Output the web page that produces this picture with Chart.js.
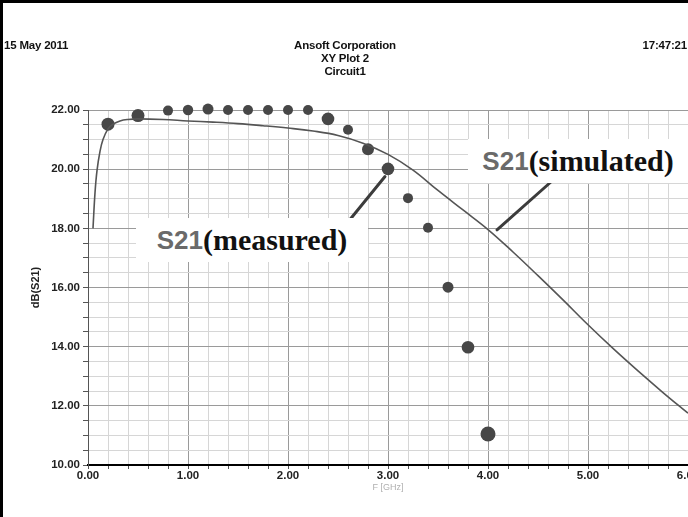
<!DOCTYPE html>
<html><head><meta charset="utf-8">
<script src="https://cdn.jsdelivr.net/npm/chart.js@4/dist/chart.umd.min.js"></script>
<style>
html,body{margin:0;padding:0;background:#fff;overflow:hidden;width:688px;height:517px;}
#wrap{position:relative;width:688px;height:517px;overflow:hidden;background:#fff;}
#frame{position:absolute;left:0;top:0;width:688px;height:517px;border-left:3px solid #000;border-top:3px solid #000;box-sizing:border-box;pointer-events:none;z-index:5}
#holder{position:absolute;left:0;top:0;width:720px;height:517px;}
.hdr{position:absolute;font:bold 11.5px 'Liberation Sans Narrow','Liberation Sans',Arial,sans-serif;color:#111;white-space:nowrap;line-height:13px;letter-spacing:-0.2px}
.note{position:absolute;background:#fff;white-space:nowrap;display:flex;align-items:center;justify-content:center;z-index:3}
.s{font:bold 26px 'Liberation Sans',Arial,sans-serif;color:#6a6a6a}
.p{font:bold 30px 'Liberation Serif','Times New Roman',serif;color:#111}
</style></head>
<body><div id="wrap">
<div id="holder"><canvas id="c" width="720" height="517"></canvas></div>
<div class="hdr" style="left:4px;top:39px">15 May 2011</div>
<div class="hdr" style="left:245px;width:200px;top:39px;text-align:center">Ansoft Corporation</div>
<div class="hdr" style="left:245px;width:200px;top:52px;text-align:center">XY Plot 2</div>
<div class="hdr" style="left:245px;width:200px;top:65px;text-align:center">Circuit1</div>
<div class="hdr" style="right:1px;top:39px;text-align:right">17:47:21</div>
<div class="note" style="left:136px;top:218px;width:232px;height:44px"><span class="s">S21</span><span class="p">(measured)</span></div>
<div class="note" style="left:468px;top:139px;width:220px;height:44px"><span class="s">S21</span><span class="p">(simulated)</span></div>
<div id="frame"></div>
</div>
<script>
// ---- data ----
const measuredFreq = [0.2, 0.5, 0.8, 1.0, 1.2, 1.4, 1.6, 1.8, 2.0, 2.2, 2.4, 2.6, 2.8, 3.0, 3.2, 3.4, 3.6, 3.8, 4.0];
const measuredDb   = [21.52, 21.81, 21.98, 22.0, 22.03, 22.0, 22.0, 22.0, 22.0, 22.0, 21.70, 21.33, 20.67, 20.01, 19.02, 18.02, 16.01, 13.98, 11.05];
const simFreq = [0.05, 0.07, 0.09, 0.12, 0.15, 0.2, 0.25, 0.32, 0.4, 0.5, 0.75, 1.0, 1.25, 1.5, 1.75, 2.0, 2.25, 2.5, 2.75, 3.0, 3.25, 3.5, 3.75, 4.0, 4.25, 4.5, 4.75, 5.0, 5.25, 5.5, 5.75, 6.0];
const simDb   = [18.0, 19.2, 19.95, 20.6, 21.0, 21.36, 21.52, 21.63, 21.68, 21.70, 21.68, 21.63, 21.59, 21.54, 21.47, 21.39, 21.29, 21.14, 20.88, 20.5, 19.97, 19.28, 18.62, 17.96, 17.2, 16.4, 15.58, 14.74, 13.94, 13.18, 12.45, 11.75];
const xTickLabels = ['0.00', '1.00', '2.00', '3.00', '4.00', '5.00', '6.00'];
const yTickLabels = ['10.00', '12.00', '14.00', '16.00', '18.00', '20.00', '22.00'];
const xAxisTitle = 'F [GHz]';
const yAxisTitle = 'dB(S21)';

// ---- styles ----
const markerRadius = [6.5, 6.5, 5, 5.2, 5.5, 5, 5, 5, 5, 5, 6.3, 5, 6, 6.3, 5, 5, 5.5, 6.3, 7.5];
const markerColor = '#474747';
const lineColor = '#555555';

const near = (v, step) => Math.abs(v / step - Math.round(v / step)) < 1e-6;

const leaderPlugin = {
  id: 'leaders',
  afterDatasetsDraw(chart) {
    const {ctx, scales: {x, y}} = chart;
    ctx.save();
    ctx.strokeStyle = '#3c3c3c';
    ctx.lineWidth = 3;
    ctx.lineCap = 'round';
    ctx.beginPath();
    ctx.moveTo(x.getPixelForValue(2.62), y.getPixelForValue(18.3));
    ctx.lineTo(x.getPixelForValue(2.97), y.getPixelForValue(19.75));
    ctx.stroke();
    ctx.beginPath();
    ctx.moveTo(x.getPixelForValue(4.09), y.getPixelForValue(17.95));
    ctx.lineTo(x.getPixelForValue(4.64), y.getPixelForValue(19.6));
    ctx.stroke();
    ctx.restore();
  }
};

new Chart(document.getElementById('c'), {
  type: 'scatter',
  data: {
    datasets: [
      {
        label: 'S21 (simulated)',
        data: simFreq.map((f, i) => ({x: f, y: simDb[i]})),
        showLine: true,
        borderColor: lineColor,
        borderWidth: 1.6,
        pointRadius: 0,
        tension: 0.4,
        fill: false
      },
      {
        label: 'S21 (measured)',
        data: measuredFreq.map((f, i) => ({x: f, y: measuredDb[i]})),
        showLine: false,
        pointRadius: markerRadius,
        pointBackgroundColor: markerColor,
        pointBorderColor: markerColor,
        pointBorderWidth: 0
      }
    ]
  },
  options: {
    responsive: false,
    animation: false,
    devicePixelRatio: 1,
    clip: false,
    layout: {padding: {left: 0, top: 110, right: 32, bottom: 0}},
    plugins: {legend: {display: false}, tooltip: {enabled: false}},
    scales: {
      x: {
        type: 'linear', min: 0, max: 6,
        afterBuildTicks(s) { const t = []; for (let i = 0; i <= 30; i++) t.push({value: i * 0.2}); s.ticks = t; },
        afterFit(s) { s.height = 52; },
        ticks: {
          autoSkip: false, maxRotation: 0, padding: 0,
          color: '#222', font: {family: "'Liberation Sans', Arial, sans-serif", size: 11.5, weight: 'bold'},
          callback: v => near(v, 1) ? xTickLabels[Math.round(v)] : ''
        },
        grid: {
          color: c => (c.tick && near(c.tick.value, 1)) ? '#9a9a9a' : '#d6d6d6',
          lineWidth: 1, drawTicks: true, tickLength: 4, tickColor: '#555'
        },
        border: {display: true, color: '#000', width: 2},
        title: {display: true, text: xAxisTitle, color: '#b0b0b0', font: {family: "'Liberation Sans', Arial, sans-serif", size: 9}, padding: {top: 0, bottom: 24}}
      },
      y: {
        type: 'linear', min: 10, max: 22,
        afterBuildTicks(s) { const t = []; for (let i = 0; i <= 24; i++) t.push({value: 10 + i * 0.5}); s.ticks = t; },
        afterFit(s) { s.width = 88; },
        ticks: {
          autoSkip: false, padding: 3,
          color: '#222', font: {family: "'Liberation Sans', Arial, sans-serif", size: 11.5, weight: 'bold'},
          callback: v => near(v, 2) ? yTickLabels[Math.round((v - 10) / 2)] : ''
        },
        grid: {
          color: c => (c.tick && near(c.tick.value, 2)) ? '#9a9a9a' : '#d6d6d6',
          lineWidth: 1, drawTicks: true, tickLength: 5, tickColor: '#555'
        },
        border: {display: true, color: '#555', width: 1},
        title: {display: true, text: yAxisTitle, color: '#222', font: {family: "'Liberation Sans', Arial, sans-serif", size: 11, weight: 'bold'}, padding: {top: 29, bottom: 0}}
      }
    }
  },
  plugins: [leaderPlugin]
});
</script>
</body></html>
